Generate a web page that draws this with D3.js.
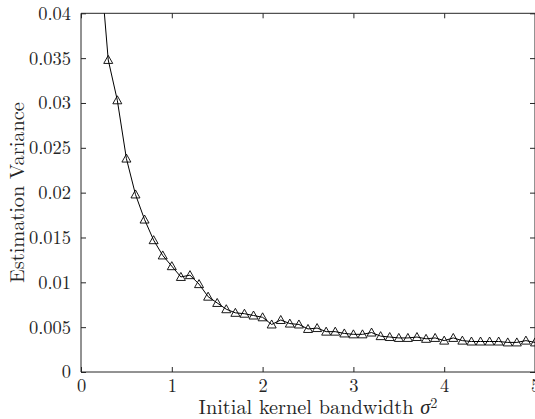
<!DOCTYPE html>
<html><head><meta charset="utf-8">
<script src="https://cdn.jsdelivr.net/npm/d3@7"></script>
<style>
body{margin:0;background:#fff;}
svg{display:block;}
</style></head>
<body>
<svg id="chart" width="535" height="419"></svg>
<script>
const bandwidth = [0.2,0.3,0.4,0.5,0.6,0.7,0.8,0.9,1.0,1.1,1.2,1.3,1.4,1.5,1.6,1.7,1.8,1.9,2.0,
  2.1,2.2,2.3,2.4,2.5,2.6,2.7,2.8,2.9,3.0,3.1,3.2,3.3,3.4,3.5,3.6,3.7,3.8,3.9,4.0,
  4.1,4.2,4.3,4.4,4.5,4.6,4.7,4.8,4.9,5.0];
const variance = [0.0470,0.0348,0.0303,0.0238,0.0198,0.0170,0.0147,0.0130,0.0118,0.0106,0.0108,0.0098,
  0.0084,0.0077,0.0070,0.0066,0.0065,0.0063,0.0061,0.0053,0.0058,0.0054,0.0053,0.0048,0.0049,
  0.0045,0.0045,0.0043,0.0042,0.0042,0.0044,0.0040,0.0039,0.0038,0.0038,0.0039,0.0037,0.0038,
  0.0035,0.0038,0.0035,0.0034,0.0034,0.0034,0.0034,0.0033,0.0033,0.0035,0.0033];
const xTicks = [0,1,2,3,4,5];
const yTicks = [0,0.005,0.01,0.015,0.02,0.025,0.03,0.035,0.04];
const xLabel = "Initial kernel bandwidth ";
const yLabel = "Estimation Variance";

const FONT = '"Latin Modern Roman","CMU Serif","Liberation Serif",serif';
const L=81, R=535, T=13.3, B=372;
const svg = d3.select("#chart");
const x = d3.scaleLinear().domain([0,5]).range([L,R]);
const y = d3.scaleLinear().domain([0,0.04]).range([B,T]);
const axisColor = "#262626";

function fitSize(str, target, base){
  const t = svg.append("text").style("font-family",FONT).attr("font-size",base).text(str);
  const w = t.node().getComputedTextLength();
  t.remove();
  return base*target/w;
}
const labFs = fitSize(yLabel, 181, 16);
const tickFs = labFs/1.1;

svg.append("defs").append("clipPath").attr("id","clip")
  .append("rect").attr("x",L).attr("y",T).attr("width",R-L).attr("height",B-T);

const fmt = d => d===0 ? "0" : String(+d.toFixed(3));

const gb = svg.append("g").attr("transform",`translate(0,${B})`)
  .call(d3.axisBottom(x).tickValues(xTicks).tickSize(-5).tickPadding(7).tickFormat(d3.format("d")));
const gt = svg.append("g").attr("transform",`translate(0,${T})`)
  .call(d3.axisTop(x).tickValues(xTicks).tickSize(-5).tickFormat(""));
const gl = svg.append("g").attr("transform",`translate(${L},0)`)
  .call(d3.axisLeft(y).tickValues(yTicks).tickSize(-5).tickPadding(10).tickFormat(fmt));
const gr = svg.append("g").attr("transform",`translate(${R},0)`)
  .call(d3.axisRight(y).tickValues(yTicks).tickSize(-5).tickFormat(""));

[gb,gt,gl,gr].forEach(g=>{
  g.attr("font-family",null).attr("font-size",null);
  g.select(".domain").attr("stroke",axisColor).attr("stroke-width",1);
  g.selectAll(".tick line").attr("stroke",axisColor).attr("stroke-width",1);
  g.selectAll("text").style("font-family",FONT).attr("font-size",tickFs).attr("fill",axisColor);
});
gb.selectAll(".domain").attr("d",`M${L},0H${R}`);
gt.selectAll(".domain").attr("d",`M${L},0H${R}`);
gl.selectAll(".domain").attr("d",`M0,${B}V${T}`);
gr.selectAll(".domain").attr("d",`M0,${B}V${T}`);

const pts = bandwidth.map((b,i)=>({b, v:variance[i]}));
const plot = svg.append("g").attr("clip-path","url(#clip)");
plot.append("path").datum(pts)
  .attr("fill","none").attr("stroke","#000").attr("stroke-width",1)
  .attr("d", d3.line().x(d=>x(d.b)).y(d=>y(d.v)));

plot.selectAll("path.m").data(pts.filter(d=>d.v<=0.04)).join("path")
  .attr("class","m")
  .attr("transform",d=>`translate(${x(d.b)},${y(d.v)})`)
  .attr("d","M0,-4.5L4.5,3.5L-4.5,3.5Z")
  .attr("fill","none").attr("stroke","#000").attr("stroke-width",0.9);

const xl = svg.append("text").attr("x",(L+R)/2+10).attr("y",414)
  .attr("text-anchor","middle").style("font-family",FONT).attr("font-size",labFs).attr("fill",axisColor);
xl.append("tspan").text(xLabel);
xl.append("tspan").attr("font-style","italic").text("σ");
xl.append("tspan").attr("font-size",labFs*0.7).attr("dy",-6).text("2");

svg.append("text").attr("transform",`translate(24,${(T+B)/2}) rotate(-90)`)
  .attr("text-anchor","middle").style("font-family",FONT).attr("font-size",labFs).attr("fill",axisColor).text(yLabel);
</script>
</body></html>
